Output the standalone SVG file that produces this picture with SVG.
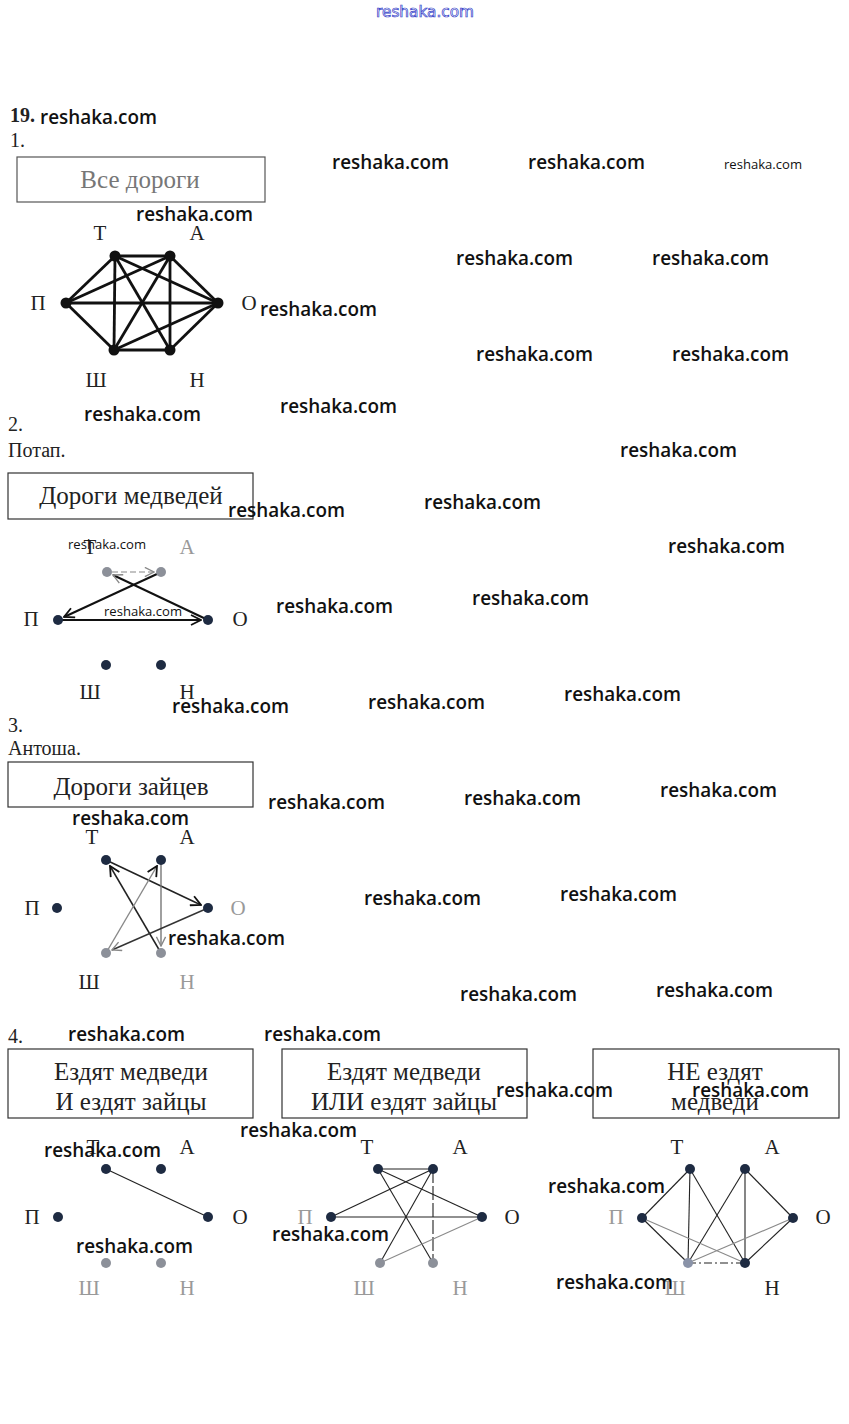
<svg xmlns="http://www.w3.org/2000/svg" width="849" height="1424" viewBox="0 0 849 1424">
<style>
.lbl{font-family:"Liberation Serif",serif;font-size:21px;fill:#222;text-anchor:middle}
.lg{fill:#999}
.box{fill:none;stroke:#333;stroke-width:1.2}
.bt{font-family:"Liberation Serif",serif;font-size:25px;fill:#222;text-anchor:middle}
.hd{font-family:"Liberation Serif",serif;font-size:20px;fill:#222}
.wm{font-family:"Open Sans",sans-serif;font-weight:600;font-size:19px;fill:#111}
.ws{font-family:"Open Sans",sans-serif;font-weight:400;font-size:13px;fill:#111}
.nd{fill:#1e2b42}
.ng{fill:#8c9099}
.e1{stroke:#111;stroke-width:2.8;fill:none}
.e2{stroke:#111;stroke-width:2;fill:none}
.e3{stroke:#222;stroke-width:1.5;fill:none}
.e4{stroke:#222;stroke-width:1.1;fill:none}
.eg{stroke:#8a8a8a;stroke-width:1.1;fill:none}
</style>
<defs>
<marker id="ad" viewBox="0 0 12 12" refX="11" refY="6" markerWidth="12" markerHeight="12" markerUnits="userSpaceOnUse" orient="auto"><path d="M1,1 L11,6 L1,11" fill="none" stroke="#111" stroke-width="1.8"/></marker>
<marker id="ag" viewBox="0 0 12 12" refX="11" refY="6" markerWidth="11" markerHeight="11" markerUnits="userSpaceOnUse" orient="auto"><path d="M1,1 L11,6 L1,11" fill="none" stroke="#888" stroke-width="1.5"/></marker>
</defs>
<rect width="849" height="1424" fill="#fff"/>

<!-- headings -->
<text x="10" y="122" class="hd" style="font-weight:bold">19.</text>
<text x="10" y="147" class="hd">1.</text>
<text x="8" y="431" class="hd">2.</text>
<text x="8" y="457" class="hd">Потап.</text>
<text x="8" y="732" class="hd">3.</text>
<text x="8" y="755" class="hd">Антоша.</text>
<text x="8" y="1043" class="hd">4.</text>

<!-- boxes -->
<g id="box1"><rect x="17" y="157" width="248" height="45" class="box" style="stroke:#555"/><text x="140" y="188" class="bt" style="fill:#777">Все дороги</text></g>
<g id="box2"><rect x="8" y="473" width="245" height="46" class="box"/><text x="131" y="504" class="bt">Дороги медведей</text></g>
<g id="box3"><rect x="8" y="762" width="245" height="45" class="box"/><text x="131" y="795" class="bt">Дороги зайцев</text></g>
<g id="box4a"><rect x="8" y="1049" width="245" height="69" class="box"/><text x="131" y="1080" class="bt">Ездят медведи</text><text x="131" y="1110" class="bt">И ездят зайцы</text></g>
<g id="box4b"><rect x="282" y="1049" width="245" height="69" class="box"/><text x="404" y="1080" class="bt">Ездят медведи</text><text x="404" y="1110" class="bt">ИЛИ ездят зайцы</text></g>
<g id="box4c"><rect x="593" y="1049" width="246" height="69" class="box"/><text x="715" y="1080" class="bt">НЕ ездят</text><text x="715" y="1110" class="bt">медведи</text></g>

<!-- connectors -->
<g id="connectors">
<g class="e1">
<line x1="115" y1="256" x2="170" y2="256"/>
<line x1="115" y1="256" x2="66" y2="303"/>
<line x1="115" y1="256" x2="218" y2="303"/>
<line x1="115" y1="256" x2="114" y2="350"/>
<line x1="115" y1="256" x2="170" y2="350"/>
<line x1="170" y1="256" x2="66" y2="303"/>
<line x1="170" y1="256" x2="218" y2="303"/>
<line x1="170" y1="256" x2="114" y2="350"/>
<line x1="170" y1="256" x2="170" y2="350"/>
<line x1="66" y1="303" x2="218" y2="303"/>
<line x1="66" y1="303" x2="114" y2="350"/>
<line x1="218" y1="303" x2="114" y2="350"/>
<line x1="218" y1="303" x2="170" y2="350"/>
<line x1="114" y1="350" x2="170" y2="350"/>
</g>
<line x1="58" y1="620" x2="201" y2="620" class="e2" marker-end="url(#ad)"/>
<line x1="157" y1="574" x2="64" y2="617" class="e2" marker-end="url(#ad)"/>
<line x1="208" y1="620" x2="113" y2="575" class="e2" marker-end="url(#ag)"/>
<line x1="112" y1="572" x2="154" y2="572" stroke="#888" stroke-width="1.2" stroke-dasharray="6,3" marker-end="url(#ag)"/>
<line x1="106" y1="860" x2="201" y2="905" class="e3" marker-end="url(#ad)"/>
<line x1="161" y1="860" x2="161" y2="946" stroke="#777" stroke-width="1.4" marker-end="url(#ag)"/>
<line x1="161" y1="953" x2="110" y2="866" class="e3" marker-end="url(#ad)"/>
<line x1="106" y1="953" x2="157" y2="866" stroke="#888" stroke-width="1.4" marker-end="url(#ad)"/>
<line x1="208" y1="908" x2="112" y2="950" stroke="#333" stroke-width="1.4" marker-end="url(#ag)"/>
<line x1="106" y1="1169" x2="208" y2="1217" class="e4"/>
<line x1="378" y1="1169" x2="433" y2="1169" class="e4"/>
<line x1="378" y1="1169" x2="482" y2="1217" class="e4"/>
<line x1="378" y1="1169" x2="433" y2="1263" class="e4"/>
<line x1="433" y1="1169" x2="331" y2="1217" class="e4"/>
<line x1="433" y1="1169" x2="380" y2="1263" class="e4"/>
<line x1="433" y1="1169" x2="433" y2="1263" class="e4" stroke-dasharray="14,3"/>
<line x1="331" y1="1217" x2="482" y2="1217" class="e4"/>
<line x1="482" y1="1217" x2="380" y2="1263" class="eg"/>
<line x1="690" y1="1169" x2="642" y2="1218" class="e4"/>
<line x1="690" y1="1169" x2="688" y2="1263" class="e4"/>
<line x1="690" y1="1169" x2="745" y2="1263" class="e4"/>
<line x1="745" y1="1169" x2="793" y2="1218" class="e4"/>
<line x1="745" y1="1169" x2="688" y2="1263" class="e4"/>
<line x1="745" y1="1169" x2="745" y2="1263" class="e4"/>
<line x1="642" y1="1218" x2="688" y2="1263" class="e4"/>
<line x1="642" y1="1218" x2="745" y2="1263" class="eg"/>
<line x1="793" y1="1218" x2="688" y2="1263" class="eg"/>
<line x1="793" y1="1218" x2="745" y2="1263" class="e4"/>
<line x1="688" y1="1263" x2="745" y2="1263" class="e4" stroke-dasharray="8,3,2,3"/>
</g>

<g id="g1-T"><circle cx="115" cy="256" r="5.5" style="fill:#111"/><text x="100" y="240" class="lbl">Т</text></g>
<g id="g1-A"><circle cx="170" cy="256" r="5.5" style="fill:#111"/><text x="197" y="240" class="lbl">А</text></g>
<g id="g1-P"><circle cx="66" cy="303" r="5.5" style="fill:#111"/><text x="38" y="310" class="lbl">П</text></g>
<g id="g1-O"><circle cx="218" cy="303" r="5.5" style="fill:#111"/><text x="249" y="310" class="lbl">О</text></g>
<g id="g1-Sh"><circle cx="114" cy="350" r="5.5" style="fill:#111"/><text x="96" y="387" class="lbl">Ш</text></g>
<g id="g1-N"><circle cx="170" cy="350" r="5.5" style="fill:#111"/><text x="197" y="387" class="lbl">Н</text></g>

<g id="g2-T"><circle cx="107" cy="572" r="5" class="ng"/><text x="90" y="554" class="lbl">Т</text></g>
<g id="g2-A"><circle cx="161" cy="572" r="5" class="ng"/><text x="187" y="554" class="lbl lg">А</text></g>
<g id="g2-P"><circle cx="58" cy="620" r="5" class="nd"/><text x="31" y="626" class="lbl">П</text></g>
<g id="g2-O"><circle cx="208" cy="620" r="5" class="nd"/><text x="240" y="626" class="lbl">О</text></g>
<g id="g2-Sh"><circle cx="106" cy="665" r="5" class="nd"/><text x="90" y="699" class="lbl">Ш</text></g>
<g id="g2-N"><circle cx="161" cy="665" r="5" class="nd"/><text x="187" y="699" class="lbl">Н</text></g>

<g id="g3-T"><circle cx="106" cy="860" r="5" class="nd"/><text x="92" y="844" class="lbl">Т</text></g>
<g id="g3-A"><circle cx="161" cy="860" r="5" class="nd"/><text x="187" y="844" class="lbl">А</text></g>
<g id="g3-P"><circle cx="57" cy="908" r="5" class="nd"/><text x="32" y="915" class="lbl">П</text></g>
<g id="g3-O"><circle cx="208" cy="908" r="5" class="nd"/><text x="238" y="915" class="lbl lg">О</text></g>
<g id="g3-Sh"><circle cx="106" cy="953" r="5" class="ng"/><text x="89" y="989" class="lbl">Ш</text></g>
<g id="g3-N"><circle cx="161" cy="953" r="5" class="ng"/><text x="187" y="989" class="lbl lg">Н</text></g>

<g id="g4a-T"><circle cx="106" cy="1169" r="5" class="nd"/><text x="93" y="1154" class="lbl">Т</text></g>
<g id="g4a-A"><circle cx="161" cy="1169" r="5" class="nd"/><text x="187" y="1154" class="lbl">А</text></g>
<g id="g4a-P"><circle cx="58" cy="1217" r="5" class="nd"/><text x="32" y="1224" class="lbl">П</text></g>
<g id="g4a-O"><circle cx="208" cy="1217" r="5" class="nd"/><text x="240" y="1224" class="lbl">О</text></g>
<g id="g4a-Sh"><circle cx="106" cy="1263" r="5" class="ng"/><text x="89" y="1295" class="lbl lg">Ш</text></g>
<g id="g4a-N"><circle cx="161" cy="1263" r="5" class="ng"/><text x="187" y="1295" class="lbl lg">Н</text></g>

<g id="g4b-T"><circle cx="378" cy="1169" r="5" class="nd"/><text x="367" y="1154" class="lbl">Т</text></g>
<g id="g4b-A"><circle cx="433" cy="1169" r="5" class="nd"/><text x="460" y="1154" class="lbl">А</text></g>
<g id="g4b-P"><circle cx="331" cy="1217" r="5" class="nd"/><text x="305" y="1224" class="lbl lg">П</text></g>
<g id="g4b-O"><circle cx="482" cy="1217" r="5" class="nd"/><text x="512" y="1224" class="lbl">О</text></g>
<g id="g4b-Sh"><circle cx="380" cy="1263" r="5" class="ng"/><text x="364" y="1295" class="lbl lg">Ш</text></g>
<g id="g4b-N"><circle cx="433" cy="1263" r="5" class="ng"/><text x="460" y="1295" class="lbl lg">Н</text></g>

<g id="g4c-T"><circle cx="690" cy="1169" r="5" class="nd"/><text x="677" y="1154" class="lbl">Т</text></g>
<g id="g4c-A"><circle cx="745" cy="1169" r="5" class="nd"/><text x="772" y="1154" class="lbl">А</text></g>
<g id="g4c-P"><circle cx="642" cy="1218" r="5" class="nd"/><text x="616" y="1224" class="lbl lg">П</text></g>
<g id="g4c-O"><circle cx="793" cy="1218" r="5" class="nd"/><text x="823" y="1224" class="lbl">О</text></g>
<g id="g4c-Sh"><circle cx="688" cy="1263" r="5" style="fill:#8a93a8"/><text x="675" y="1295" class="lbl lg">Ш</text></g>
<g id="g4c-N"><circle cx="745" cy="1263" r="5" class="nd"/><text x="772" y="1295" class="lbl">Н</text></g>

<g id="watermarks">
<text x="376" y="17" font-family="DejaVu Sans, sans-serif" font-size="15" fill="#fff" stroke="#3340c8" stroke-width="0.7" textLength="98" lengthAdjust="spacingAndGlyphs">reshaka.com</text>
<text x="40" y="124" class="wm" textLength="117" lengthAdjust="spacingAndGlyphs">reshaka.com</text>
<text x="332" y="169" class="wm" textLength="117" lengthAdjust="spacingAndGlyphs">reshaka.com</text>
<text x="528" y="169" class="wm" textLength="117" lengthAdjust="spacingAndGlyphs">reshaka.com</text>
<text x="724" y="169" class="ws" textLength="78" lengthAdjust="spacingAndGlyphs">reshaka.com</text>
<text x="136" y="221" class="wm" textLength="117" lengthAdjust="spacingAndGlyphs">reshaka.com</text>
<text x="456" y="265" class="wm" textLength="117" lengthAdjust="spacingAndGlyphs">reshaka.com</text>
<text x="652" y="265" class="wm" textLength="117" lengthAdjust="spacingAndGlyphs">reshaka.com</text>
<text x="260" y="316" class="wm" textLength="117" lengthAdjust="spacingAndGlyphs">reshaka.com</text>
<text x="476" y="361" class="wm" textLength="117" lengthAdjust="spacingAndGlyphs">reshaka.com</text>
<text x="672" y="361" class="wm" textLength="117" lengthAdjust="spacingAndGlyphs">reshaka.com</text>
<text x="84" y="421" class="wm" textLength="117" lengthAdjust="spacingAndGlyphs">reshaka.com</text>
<text x="280" y="413" class="wm" textLength="117" lengthAdjust="spacingAndGlyphs">reshaka.com</text>
<text x="620" y="457" class="wm" textLength="117" lengthAdjust="spacingAndGlyphs">reshaka.com</text>
<text x="424" y="509" class="wm" textLength="117" lengthAdjust="spacingAndGlyphs">reshaka.com</text>
<text x="228" y="517" class="wm" textLength="117" lengthAdjust="spacingAndGlyphs">reshaka.com</text>
<text x="68" y="549" class="ws" textLength="78" lengthAdjust="spacingAndGlyphs">reshaka.com</text>
<text x="668" y="553" class="wm" textLength="117" lengthAdjust="spacingAndGlyphs">reshaka.com</text>
<text x="276" y="613" class="wm" textLength="117" lengthAdjust="spacingAndGlyphs">reshaka.com</text>
<text x="472" y="605" class="wm" textLength="117" lengthAdjust="spacingAndGlyphs">reshaka.com</text>
<text x="104" y="616" class="ws" textLength="78" lengthAdjust="spacingAndGlyphs">reshaka.com</text>
<text x="564" y="701" class="wm" textLength="117" lengthAdjust="spacingAndGlyphs">reshaka.com</text>
<text x="172" y="713" class="wm" textLength="117" lengthAdjust="spacingAndGlyphs">reshaka.com</text>
<text x="368" y="709" class="wm" textLength="117" lengthAdjust="spacingAndGlyphs">reshaka.com</text>
<text x="268" y="809" class="wm" textLength="117" lengthAdjust="spacingAndGlyphs">reshaka.com</text>
<text x="464" y="805" class="wm" textLength="117" lengthAdjust="spacingAndGlyphs">reshaka.com</text>
<text x="660" y="797" class="wm" textLength="117" lengthAdjust="spacingAndGlyphs">reshaka.com</text>
<text x="72" y="825" class="wm" textLength="117" lengthAdjust="spacingAndGlyphs">reshaka.com</text>
<text x="364" y="905" class="wm" textLength="117" lengthAdjust="spacingAndGlyphs">reshaka.com</text>
<text x="560" y="901" class="wm" textLength="117" lengthAdjust="spacingAndGlyphs">reshaka.com</text>
<text x="168" y="945" class="wm" textLength="117" lengthAdjust="spacingAndGlyphs">reshaka.com</text>
<text x="460" y="1001" class="wm" textLength="117" lengthAdjust="spacingAndGlyphs">reshaka.com</text>
<text x="656" y="997" class="wm" textLength="117" lengthAdjust="spacingAndGlyphs">reshaka.com</text>
<text x="68" y="1041" class="wm" textLength="117" lengthAdjust="spacingAndGlyphs">reshaka.com</text>
<text x="264" y="1041" class="wm" textLength="117" lengthAdjust="spacingAndGlyphs">reshaka.com</text>
<text x="496" y="1097" class="wm" textLength="117" lengthAdjust="spacingAndGlyphs">reshaka.com</text>
<text x="692" y="1097" class="wm" textLength="117" lengthAdjust="spacingAndGlyphs">reshaka.com</text>
<text x="240" y="1137" class="wm" textLength="117" lengthAdjust="spacingAndGlyphs">reshaka.com</text>
<text x="44" y="1157" class="wm" textLength="117" lengthAdjust="spacingAndGlyphs">reshaka.com</text>
<text x="548" y="1193" class="wm" textLength="117" lengthAdjust="spacingAndGlyphs">reshaka.com</text>
<text x="76" y="1253" class="wm" textLength="117" lengthAdjust="spacingAndGlyphs">reshaka.com</text>
<text x="272" y="1241" class="wm" textLength="117" lengthAdjust="spacingAndGlyphs">reshaka.com</text>
<text x="556" y="1289" class="wm" textLength="117" lengthAdjust="spacingAndGlyphs">reshaka.com</text>
</g>
</svg>
